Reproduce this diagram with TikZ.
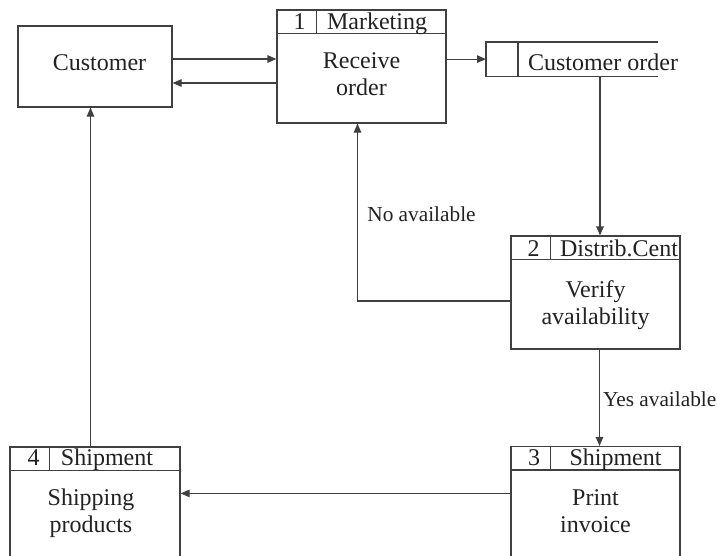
\documentclass[tikz,border=0pt]{standalone}
\usepackage{fontspec}
\setmainfont{Liberation Serif}
\usetikzlibrary{arrows.meta}
\definecolor{ink}{HTML}{404040}
\definecolor{txt}{HTML}{222222}
\begin{document}
\begin{tikzpicture}[x=1pt,y=-1pt,
  line width=1.2pt, draw=ink,
  every node/.style={font=\fontsize{24}{27}\selectfont, text=txt, inner sep=0pt},
  box/.style={draw=ink, line width=1.2pt, rectangle, minimum width=#1},
  box/.default=169pt,
  lbl/.style={anchor=base},
  flowlbl/.style={font=\fontsize{21.3}{24}\selectfont},
  body/.style={align=center, anchor=center},
  arr/.style={draw=ink, -{Triangle[length=9pt,width=7.5pt]}}]
\useasboundingbox (0,0) rectangle (718,555);
\clip (0,0) rectangle (718,555);
\fill[white] (0,0) rectangle (718,555);

% external entity
\node[box=154pt, minimum height=81pt] (cust) at (95,66.5) {};
\node[lbl] (custtxt) at (99.5,70) {Customer};

% process 1
\node[box, minimum height=113pt] (mkt) at (361.5,66.5) {};
\draw ([yshift=-24pt]mkt.north west) -- ([yshift=-24pt]mkt.north east);
\draw ([xshift=40pt]mkt.north west) -- ([xshift=40pt,yshift=-24pt]mkt.north west);
\node[lbl] (mktid) at (299.5,29.5) {1};
\node[lbl] (mktdept) at (377,29.5) {Marketing};
\node[body] (mkttxt) at (361.5,74.3) {Receive\\order};

% data store
\node[minimum width=171pt, minimum height=33pt, anchor=north west] (store) at (486,42) {};
\draw (store.north east) -- (store.north west) -- (store.south west) -- (store.south east);
\draw ([xshift=32pt]store.north west) -- ([xshift=32pt]store.south west);
\node[lbl] (storetxt) at (603,70) {Customer order};

% process 2
\node[box, minimum height=113pt] (dist) at (595.5,292.5) {};
\draw ([yshift=-24pt]dist.north west) -- ([yshift=-24pt]dist.north east);
\draw ([xshift=40pt]dist.north west) -- ([xshift=40pt,yshift=-24pt]dist.north west);
\node[lbl] (distid) at (533.5,256) {2};
\node[lbl] (distdept) at (619,256) {Distrib.Cent};
\node[body] (disttxt) at (595.5,304.7) {Verify\\availability};

% process 3 (runs past the lower edge)
\node[box, minimum height=120pt] (inv) at (595.5,506.5) {};
\draw ([yshift=-24pt]inv.north west) -- ([yshift=-24pt]inv.north east);
\draw ([xshift=40pt]inv.north west) -- ([xshift=40pt,yshift=-24pt]inv.north west);
\node[lbl] (invid) at (534,465.5) {3};
\node[lbl] (invdept) at (615.5,465.5) {Shipment};
\node[body] (invtxt) at (595.5,511.2) {Print\\invoice};

% process 4 (runs past the lower edge)
\node[box=170pt, minimum height=120pt] (ship) at (95,507) {};
\draw ([yshift=-24pt]ship.north west) -- ([yshift=-24pt]ship.north east);
\draw ([xshift=40pt]ship.north west) -- ([xshift=40pt,yshift=-24pt]ship.north west);
\node[lbl] (shipid) at (33.5,465.5) {4};
\node[lbl] (shipdept) at (107,465.5) {Shipment};
\node[body] (shiptxt) at (91,513.3) {Shipping\\products};

% flows
\draw[arr] ([yshift=7.5pt]cust.east) -- ([yshift=7.5pt]cust.east -| mkt.west);
\draw[arr] ([yshift=-16.5pt]cust.east -| mkt.west) -- ([yshift=-16.5pt]cust.east);
\draw[arr] (store.west -| mkt.east) -- (store.west);
\draw[arr] ([xshift=4.5pt]dist.north |- store.south) -- ([xshift=4.5pt]dist.north);
\draw[arr] ([yshift=-8.5pt]dist.west) -| ([xshift=-4pt]mkt.south);
\node[lbl, flowlbl] (noav) at (421.5,221.5) {No available};
\draw[arr] ([xshift=4pt]dist.south) -- ([xshift=4pt]inv.north);
\node[anchor=base west, flowlbl] (yesav) at (602.5,406.7) {Yes available};
\draw[arr] ([yshift=-47.5pt]inv.north west) -- ([yshift=-47.5pt]inv.north west -| ship.east);
\draw[arr] ([xshift=-4.5pt]ship.north) -- ([xshift=-4.5pt]ship.north |- cust.south);
\end{tikzpicture}
\end{document}
